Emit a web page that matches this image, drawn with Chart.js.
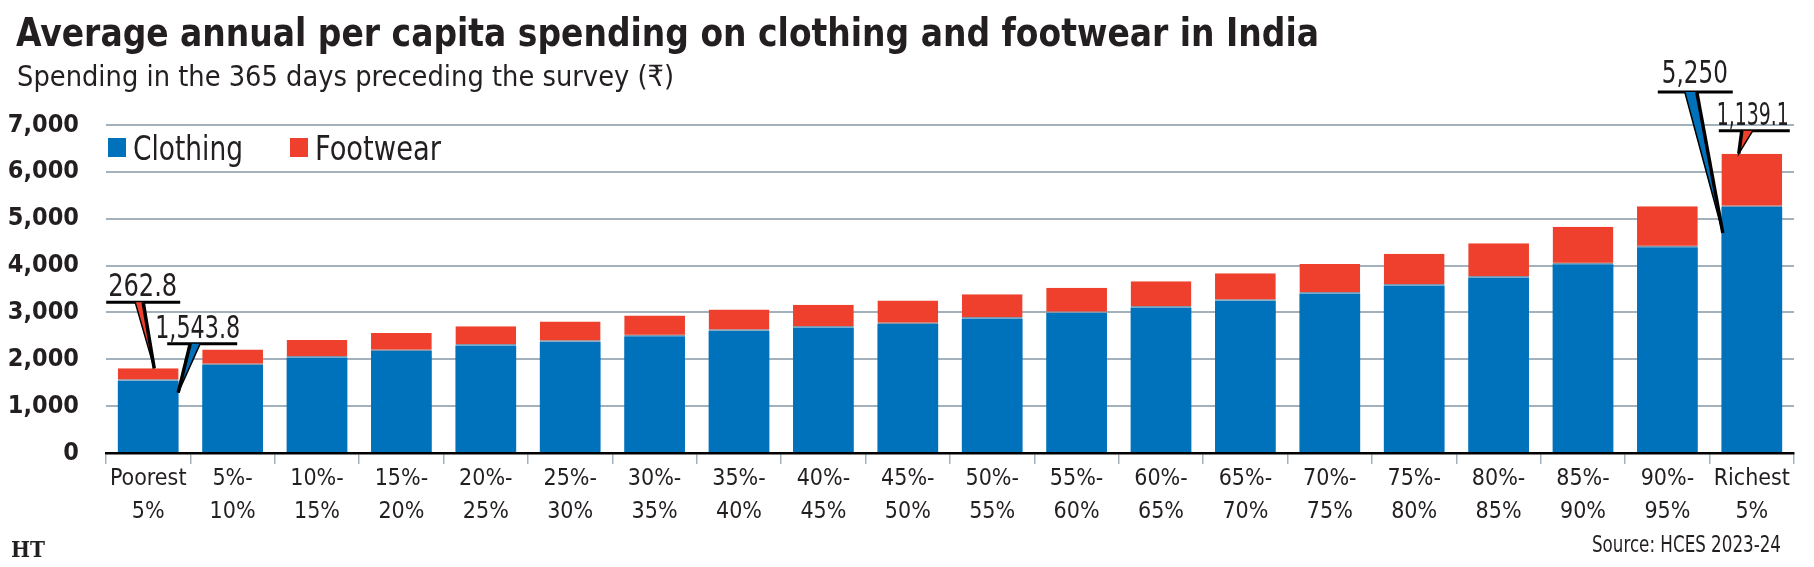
<!DOCTYPE html>
<html>
<head>
<meta charset="utf-8">
<script src="https://cdn.jsdelivr.net/npm/chart.js@4"></script>
<style>
html,body{margin:0;padding:0;background:#fff}
#wrap{position:relative;width:1814px;height:567px}
</style>
</head>
<body>
<div id="wrap"><canvas id="SpendChart"></canvas></div>
<script>
//  data
const groups=[['Poorest','5%'],['5%-','10%'],['10%-','15%'],['15%-','20%'],['20%-','25%'],['25%-','30%'],['30%-','35%'],['35%-','40%'],['40%-','45%'],['45%-','50%'],['50%-','55%'],['55%-','60%'],['60%-','65%'],['65%-','70%'],['70%-','75%'],['75%-','80%'],['80%-','85%'],['85%-','90%'],['90%-','95%'],['Richest','5%']]
const clothing=[1543.8,1876,2040,2175,2294,2376,2489,2610,2681,2752,2872,2986,3106,3248,3404,3575,3746,4030,4392,5250]
const footwear=[262.8,334,369,384,410,433,447,454,482,503,518,539,561,589,631,677,732,796,875,1139.1]
const yTicks=[0,1000,2000,3000,4000,5000,6000,7000]

const TITLE='Average annual per capita spending on clothing and footwear in India'
const SUBTITLE='Spending in the 365 days preceding the survey (₹)'
const SOURCE='Source: HCES 2023-24'

const BLUE='#0072bb',RED='#ee402c',INK='#231f20',GRID='#a3b1bd'

//  helpers
function pickFont(list){
  const c=document.createElement('canvas').getContext('2d')
  const s='Poorest 5%-10% 1,234 Clothing'
  c.font='40px monospace';const base=c.measureText(s).width
  for(const f of list){c.font="40px '"+f+"', monospace";if(Math.abs(c.measureText(s).width-base)>0.5)return f}
  return 'Roboto'
}
const NARROW=pickFont(['Liberation Sans Narrow','DejaVu Sans Condensed','Roboto Condensed','Open Sans Condensed'])
const fmt=v=>v.toLocaleString('en-US',{maximumFractionDigits:1})

// draw text squeezed/stretched to a given width
function fitText(ctx,txt,x,y,w,font,align){
  ctx.save();ctx.font=font;ctx.textBaseline='alphabetic';ctx.textAlign='left'
  const m=ctx.measureText(txt).width,s=w/m
  const x0=align=='right'?x-w:x
  ctx.translate(x0,y);ctx.scale(s,1);ctx.fillText(txt,0,0);ctx.restore()
}

//  callouts (offsets relative to the bar they point at)
const callouts=[
  {ds:1,i:0,val:footwear[0],tx:-40,ty:-72,w:69,ul:[-42,32],uy:-66,wb:[-13,-5],tip:[6,0],thick:'r'},
  {ds:0,i:0,val:clothing[0],tx:7,ty:-43,w:85,ul:[19,89],uy:-37,wb:[42,52],tip:[30,12],thick:'l'},
  {ds:0,i:19,val:clothing[19],tx:-90,ty:-124,w:66,ul:[-94,-19],uy:-115,wb:[-67,-55],tip:[-29,26],thick:'r'},
  {ds:1,i:19,val:footwear[19],tx:-35,ty:-29,w:72,ul:[-33,38],uy:-23,wb:[-10,1],tip:[-13,0],thick:'l'}
]

const calloutPlugin={
  id:'callouts',
  afterDatasetsDraw(chart){
    const ctx=chart.ctx
    callouts.forEach(c=>{
      const bar=chart.getDatasetMeta(c.ds).data[c.i]
      const col=chart.data.datasets[c.ds].backgroundColor
      const bx=bar.x,by=bar.y
      ctx.save()
      ctx.fillStyle=INK
      fitText(ctx,fmt(c.val),bx+c.tx,by+c.ty,c.w,"32px '"+NARROW+"'")
      ctx.strokeStyle='#000';ctx.lineWidth=3
      ctx.beginPath();ctx.moveTo(bx+c.ul[0],by+c.uy);ctx.lineTo(bx+c.ul[1],by+c.uy);ctx.stroke()
      const p1=[bx+c.wb[0],by+c.uy],p2=[bx+c.wb[1],by+c.uy],t=[bx+c.tip[0],by+c.tip[1]]
      ctx.beginPath();ctx.moveTo(p1[0],p1[1]);ctx.lineTo(p2[0],p2[1]);ctx.lineTo(t[0],t[1]);ctx.closePath()
      ctx.fillStyle=col;ctx.fill()
      ctx.lineWidth=1.5;ctx.beginPath();ctx.moveTo(p1[0],p1[1]);ctx.lineTo(t[0],t[1]);ctx.lineTo(p2[0],p2[1]);ctx.stroke()
      const e=c.thick=='l'?p1:p2
      ctx.lineWidth=3.5;ctx.beginPath();ctx.moveTo(e[0],e[1]);ctx.lineTo(t[0],t[1]);ctx.stroke()
      ctx.restore()
    })
  }
}

//  title, subtitle, legend, source
const chromePlugin={
  id:'chrome',
  afterDraw(chart){
    const ctx=chart.ctx,a=chart.chartArea
    ctx.save();ctx.fillStyle=INK
    fitText(ctx,TITLE,16,46,1303,"bold 39px '"+NARROW+"'")
    fitText(ctx,SUBTITLE,17,86,657,"29px '"+NARROW+"'")
    fitText(ctx,SOURCE,1781,552,189,"23px '"+NARROW+"'",'right')
    fitText(ctx,'HT',11,557,34,"bold 22px 'DejaVu Serif'")
    // legend inside the plot
    const lx=[a.left+2,a.left+184],lw=[110,126]
    chart.data.datasets.forEach((d,k)=>{
      ctx.fillStyle=d.backgroundColor;ctx.fillRect(lx[k],a.top+13,18,19)
      ctx.fillStyle=INK;fitText(ctx,d.label,lx[k]+25,a.top+35,lw[k],"33px '"+NARROW+"'")
    })
    ctx.restore()
  }
}

//  chart
let SpendChart=new Chart(document.getElementById('SpendChart'),{
  type:'bar',
  plugins:[calloutPlugin,chromePlugin],
  data:{
    labels:groups,
    datasets:[
      {label:'Clothing',data:clothing,backgroundColor:BLUE,borderWidth:0},
      {label:'Footwear',data:footwear,backgroundColor:RED,borderColor:'#8296aa',borderWidth:{top:0,left:0,right:0,bottom:1.5},borderSkipped:false}
    ]
  },
  options:{
    responsive:true,maintainAspectRatio:false,animation:false,
    layout:{padding:{top:125,right:20,bottom:0,left:0}},
    datasets:{bar:{barPercentage:0.72,categoryPercentage:1}},
    plugins:{legend:{display:false},tooltip:{enabled:false}},
    scales:{
      x:{
        stacked:true,z:1,
        afterFit(s){s.height=114},
        border:{display:true,color:'#000',width:2.5},
        grid:{offset:true,drawOnChartArea:false,drawTicks:true,tickLength:11,color:GRID,lineWidth:1.5},
        ticks:{color:INK,padding:-1,maxRotation:0,autoSkip:false,font:{family:NARROW,size:23,lineHeight:1.42}}
      },
      y:{
        stacked:true,min:0,max:7000,
        afterFit(s){s.width=106},
        afterBuildTicks(s){s.ticks=yTicks.map(v=>({value:v}))},
        border:{display:false},
        grid:{color:GRID,lineWidth:2,drawTicks:false},
        ticks:{color:INK,padding:27,font:{family:NARROW,size:25,weight:'bold'},callback:v=>fmt(v)}
      }
    }
  }
})
</script>
</body>
</html>
